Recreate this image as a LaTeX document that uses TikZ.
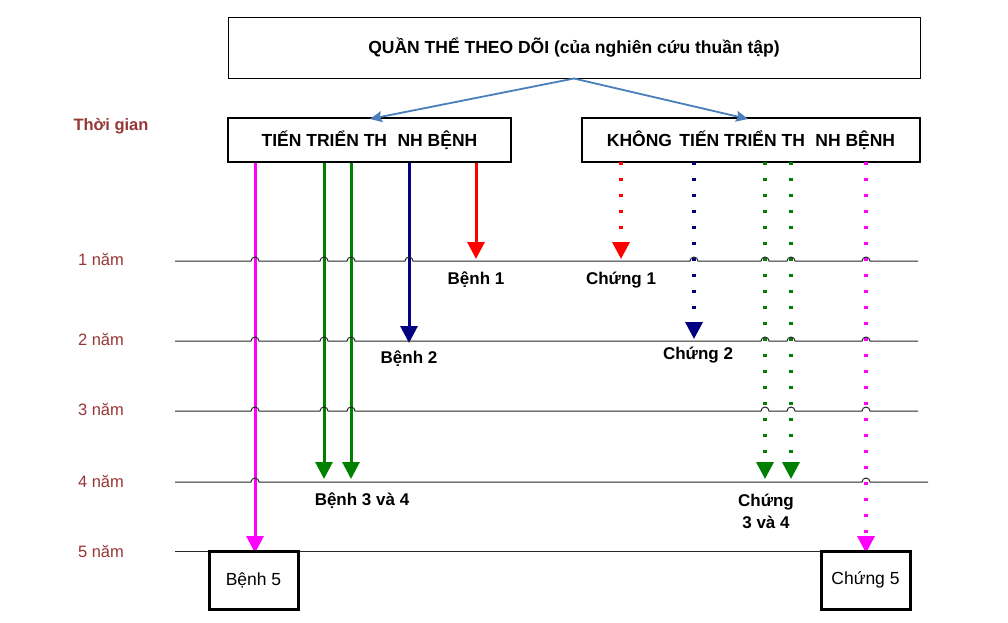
\documentclass[tikz,border=0pt]{standalone}
\usepackage{fontspec}
\setmainfont{Liberation Sans}
\usetikzlibrary{arrows.meta}
\definecolor{tred}{HTML}{953735}
\definecolor{bluearr}{HTML}{4A7EBB}
\definecolor{dgreen}{HTML}{008000}
\definecolor{dnavy}{HTML}{000080}
\definecolor{mag}{HTML}{FF00FF}
\definecolor{rred}{HTML}{FF0000}
\newcommand\hopline[3]{%
  \draw[tline] (175,#1) \foreach \hx in {#2}{ -- (\hx-4,#1) arc[start angle=180,end angle=360,radius=4] } -- (#3,#1);}
\newcommand\plainline[2]{\draw[tline] (175,#1) -- (#2,#1);}
\begin{document}
\begin{tikzpicture}[x=1pt,y=-1pt,
  tline/.style={draw=black!85, line width=1pt},
  tlabel/.style={text=tred, font=\fontsize{16.5}{20}\selectfont, inner sep=0pt},
  lbl/.style={font=\bfseries\fontsize{17}{20}\selectfont, inner sep=0pt, align=center},
  hdr/.style={draw, fill=white, line width=1.6pt, minimum height=44pt, inner sep=0pt, font=\bfseries\fontsize{17.5}{20}\selectfont},
  endbox/.style={draw, fill=white, line width=3pt, minimum width=89pt, minimum height=58pt, inner sep=0pt, font=\fontsize{17.5}{20}\selectfont},
  solidarr/.style={line width=3pt, -{Triangle[width=17pt,length=17pt]}},
  dotarr/.style={line width=3.5pt, dash pattern=on 3.5pt off 12.5pt, -{Triangle[width=17pt,length=17pt]}},
  barr/.style={draw=bluearr, line width=1.8pt, -{Stealth[length=12pt,width=11pt,inset=2pt]}}
]
\useasboundingbox (0,0) rectangle (1008,622);

% boxes
\node[draw, line width=1pt, minimum width=692pt, minimum height=61pt, inner sep=0pt,
  font=\bfseries\fontsize{17.5}{20}\selectfont] (top) at (574,47.5) {QUẦN THỂ THEO DÕI (của nghiên cứu thuần tập)};
\node[hdr, minimum width=283pt] (hl) at (369.5,140) {TIẾN TRIỂN TH\hspace{0.6em}NH BỆNH};
\node[hdr, minimum width=338pt] (hr) at (751,140) {KHÔNG\hspace{0.15em} TIẾN TRIỂN TH\hspace{0.6em}NH BỆNH};

% blue arrows
\coordinate (bl) at (370,119);
\coordinate (br) at (748,119);
\draw[barr] (top.south) -- (bl);
\draw[barr] (top.south) -- (br);

% time labels
\node[tlabel, font=\bfseries\fontsize{16.5}{20}\selectfont] (tg) at (111,126) {Thời gian};
\node[tlabel] (t1) at (101,259) {1 năm};
\node[tlabel] (t2) at (101,339) {2 năm};
\node[tlabel] (t3) at (101,409) {3 năm};
\node[tlabel] (t4) at (101,481) {4 năm};
\node[tlabel] (t5) at (101,551) {5 năm};

% arrow end points
\coordinate (em) at (255,553);
\coordinate (eg1) at (324,479);
\coordinate (eg2) at (351,479);
\coordinate (en) at (409,343);
\coordinate (er) at (476,259);
\coordinate (dr) at (621,259);
\coordinate (dn) at (694,339);
\coordinate (dg1) at (765,479);
\coordinate (dg2) at (791,479);
\coordinate (dm) at (866,553);

% solid arrows
\draw[solidarr, mag] (hl.south -| em) -- (em);
\draw[solidarr, dgreen] (hl.south -| eg1) -- (eg1);
\draw[solidarr, dgreen] (hl.south -| eg2) -- (eg2);
\draw[solidarr, dnavy] (hl.south -| en) -- (en);
\draw[solidarr, rred] (hl.south -| er) -- (er);

% dotted arrows
\draw[dotarr, rred] ([yshift=1pt]hr.south -| dr) -- (dr);
\draw[dotarr, dnavy] ([yshift=1pt]hr.south -| dn) -- (dn);
\draw[dotarr, dgreen] ([yshift=1pt]hr.south -| dg1) -- (dg1);
\draw[dotarr, dgreen] ([yshift=1pt]hr.south -| dg2) -- (dg2);
\draw[dotarr, mag] ([yshift=1pt]hr.south -| dm) -- (dm);

% time lines with hops (over the arrows)
\hopline{261}{255,324,351,409,694,765,791,866}{918}
\hopline{341}{255,324,351,765,791,866}{918}
\hopline{411}{255,324,351,765,791,866}{918}
\hopline{482}{255,866}{928}
\plainline{551}{822}

% end boxes
\node[endbox] (b5) at (253.5,580) {Bệnh 5};
\node[endbox] (c5) at (865.5,580) {Chứng 5};

% labels
\node[lbl] (lb1) at (476,280) {Bệnh 1};
\node[lbl] (lc1) at (621,280) {Chứng 1};
\node[lbl] (lb2) at (409,359) {Bệnh 2};
\node[lbl] (lc2) at (698,355) {Chứng 2};
\node[lbl] (lb34) at (362,501) {Bệnh 3 và 4};
\node[lbl] (lc34) at (766,511) {Chứng\\[2pt]3 và 4};
\end{tikzpicture}
\end{document}
